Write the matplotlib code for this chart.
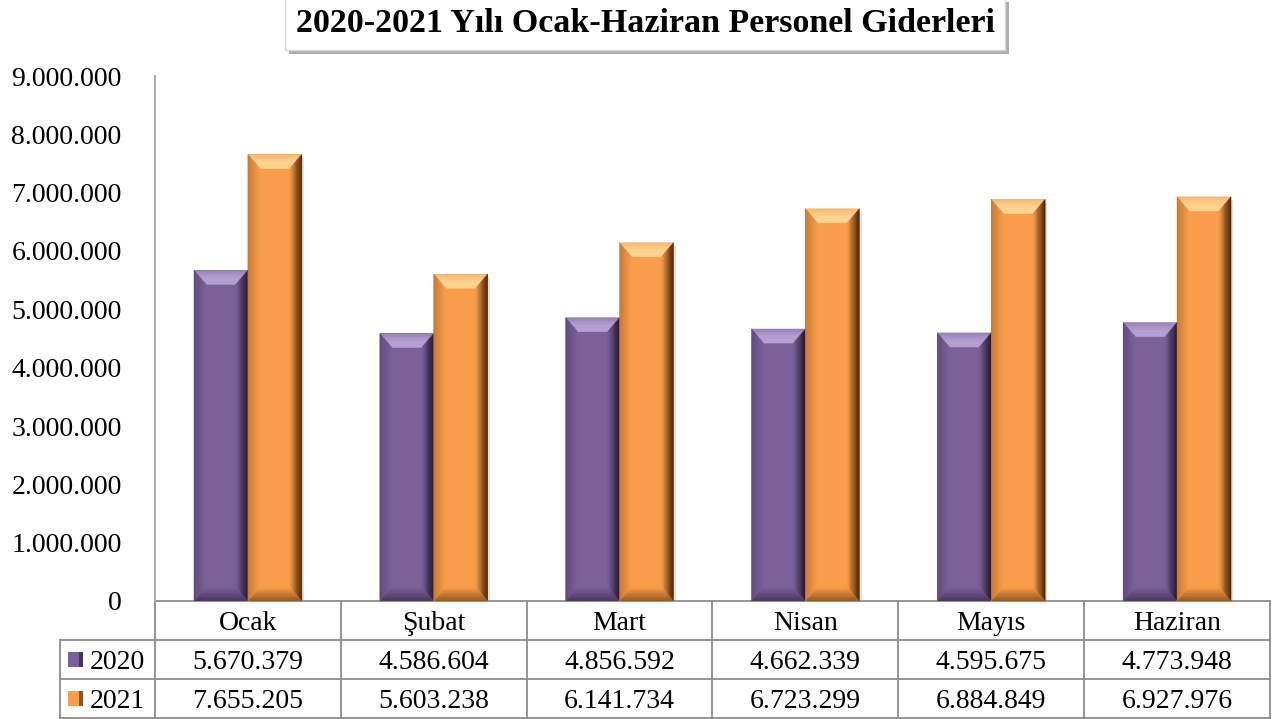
import numpy as np
import matplotlib.pyplot as plt
import matplotlib.patheffects as pe
from matplotlib.colors import to_rgb
from matplotlib.patches import Polygon, Rectangle
from matplotlib.transforms import blended_transform_factory
from matplotlib.ticker import FuncFormatter

months = ['Ocak', 'Şubat', 'Mart', 'Nisan', 'Mayıs', 'Haziran']
series_names = ['2020', '2021']
vals_2020 = [5670379, 4586604, 4856592, 4662339, 4595675, 4773948]
vals_2021 = [7655205, 5603238, 6141734, 6723299, 6884849, 6927976]

title = '2020-2021 Yılı Ocak-Haziran Personel Giderleri'

# base, light (top bevel), dark (right side)
purple = ('#7B609A', '#B7A2D4', '#24182F')
orange = ('#F99D4A', '#FFD592', '#4A2606')

plt.rcParams['font.family'] = ['Liberation Serif', 'DejaVu Serif']

W, H = 1282, 719
fig = plt.figure(figsize=(W / 100, H / 100), dpi=100)
ax = fig.add_axes([155 / W, (H - 601) / H, (1270 - 155) / W, (601 - 76) / H])

ymax = 9000000
ax.set_xlim(-0.5, len(months) - 0.5)
ax.set_ylim(0, ymax)

bw = 0.29
x = np.arange(len(months))


def fmt(v):
    return f'{int(v):,}'.replace(',', '.')


def mix(a, b, f):
    return np.array(to_rgb(a)) * (1 - f) + np.array(to_rgb(b)) * f


# bevel size in pixels, converted to data units
bx = 12 / 186
by = 14 * ymax / 525


def bevel(rect, cols):
    base, light, dark = cols
    x0, w, h = rect.get_x(), rect.get_width(), rect.get_height()
    x1 = x0 + w
    # soft shadow
    ax.add_patch(Rectangle((x0 + 0.012, -by * 0.25), w, h, color='black',
                           alpha=0.12, zorder=1, lw=0))

    def inner(t):
        return x0 + bx * t, by * t, x1 - bx * t, h - by * t

    n = 10
    for k in range(n):
        t0, t1 = k / n, (k + 1) / n
        tm = (t0 + t1) / 2
        L0, B0, R0, T0 = inner(t0)
        L1, B1, R1, T1 = inner(t1)
        top_f = 0.45 + 0.55 * np.sin(np.pi * min(tm * 1.3, 1) / 2)
        sides = [
            ([(L0, T0), (R0, T0), (R1, T1), (L1, T1)], mix(base, light, top_f)),
            ([(R0, T0), (R0, B0), (R1, B1), (R1, T1)], mix(dark, base, tm ** 1.2)),
            ([(L0, B0), (R0, B0), (R1, B1), (L1, B1)], mix(base, dark, 0.6 * (1 - tm))),
            ([(L0, T0), (L0, B0), (L1, B1), (L1, T1)], mix(base, dark, 0.3 * (1 - tm))),
        ]
        for pts, c in sides:
            ax.add_patch(Polygon(pts, closed=True, fc=c, ec=c, lw=0.4, zorder=3))


bars1 = ax.bar(x - bw / 2, vals_2020, bw, color=purple[0], zorder=2, lw=0)
bars2 = ax.bar(x + bw / 2, vals_2021, bw, color=orange[0], zorder=2, lw=0)
for r in bars1:
    bevel(r, purple)
for r in bars2:
    bevel(r, orange)

fs = 20
ax.set_yticks(np.arange(0, ymax + 1, 1000000))
ax.yaxis.set_major_formatter(FuncFormatter(lambda v, p: fmt(v)))
ax.tick_params(axis='y', length=0, pad=24, labelsize=fs)
ax.set_xticks([])
for s in ['top', 'right', 'bottom']:
    ax.spines[s].set_visible(False)
ax.spines['left'].set_color('#A6A6A6')
ax.spines['left'].set_linewidth(1.3)

# data table below the axes
tr = blended_transform_factory(ax.transData, ax.transAxes)
rh = 39 / 525
gc = '#8C8C8C'
left_ax = (60 - 155) / (1270 - 155)
line_kw = dict(color=gc, lw=1.3, clip_on=False)

ax.plot([-0.5, len(months) - 0.5], [0, 0], transform=tr, **line_kw)
for k in range(1, 4):
    ax.plot([left_ax, 1], [-rh * k, -rh * k], transform=ax.transAxes, **line_kw)
for b in np.arange(len(months) + 1) - 0.5:
    ax.plot([b, b], [0, -rh * 3], transform=tr, **line_kw)
ax.plot([left_ax, left_ax], [-rh, -rh * 3], transform=ax.transAxes, **line_kw)

tkw = dict(transform=tr, ha='center', va='center_baseline', fontsize=fs)
for i, m in enumerate(months):
    ax.text(i, -rh * 0.5, m, **tkw)
    ax.text(i, -rh * 1.5, fmt(vals_2020[i]), **tkw)
    ax.text(i, -rh * 2.5, fmt(vals_2021[i]), **tkw)

# legend keys in table
ka = 15 / 1115
kh = 15 / 525
for k, (name, cols) in enumerate(zip(series_names, [purple, orange])):
    yc = -rh * (1.5 + k)
    x0 = (68 - 155) / 1115
    ax.add_patch(Rectangle((x0, yc - kh / 2), ka, kh, transform=ax.transAxes,
                           color=cols[0], clip_on=False, lw=0))
    ax.add_patch(Rectangle((x0 + ka * 0.7, yc - kh / 2), ka * 0.3, kh, transform=ax.transAxes,
                           color=mix(cols[0], cols[2], 0.6), clip_on=False, lw=0))
    ax.text((90 - 155) / 1115, yc, name, transform=ax.transAxes, ha='left',
            va='center_baseline', fontsize=fs)

# title with shadowed box
t = fig.text(645 / W, 1 - 24 / H, title, ha='center', va='center',
             fontsize=24.5, fontweight='bold', color='black',
             bbox=dict(boxstyle='square,pad=0.3', fc='white', ec='#D9D9D9'))
t.get_bbox_patch().set_path_effects([
    pe.SimplePatchShadow(offset=(3, -3), shadow_rgbFace='#9A9A9A', alpha=0.8),
    pe.Normal()])

fig.savefig('out.png', dpi=100)
